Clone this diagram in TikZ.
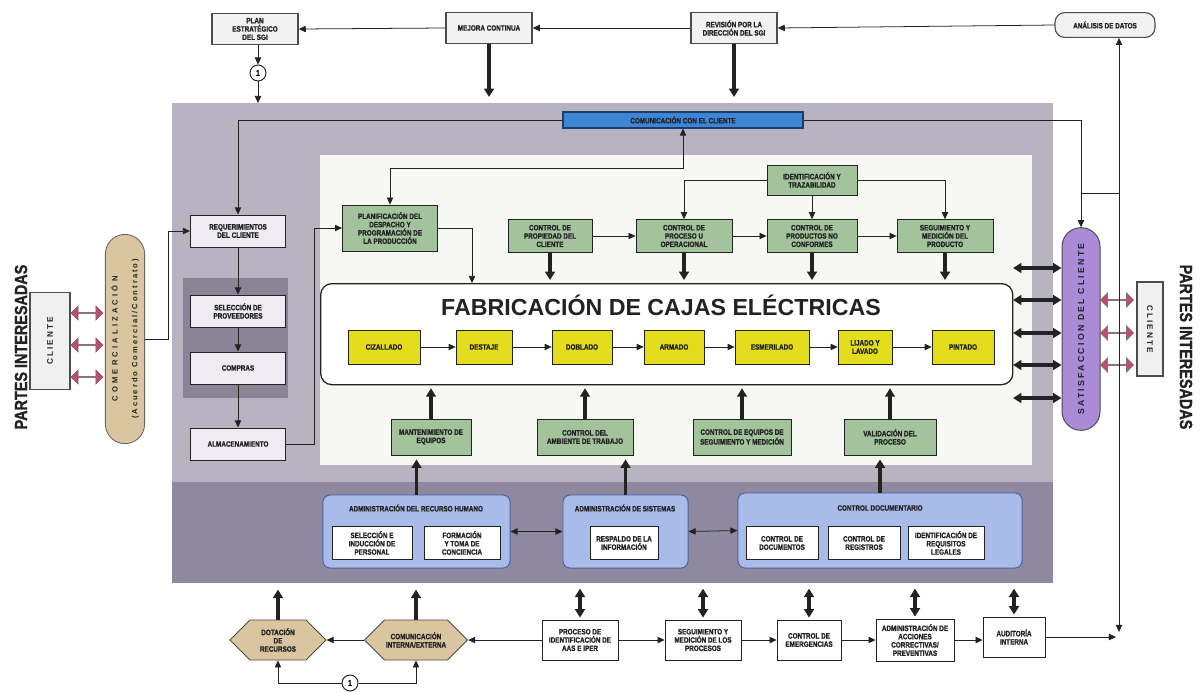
\documentclass[tikz,border=0pt]{standalone}
\usepackage{fontspec}
\setmainfont{Liberation Sans}
\newfontfamily\nf[FakeStretch=0.82, BoldFeatures={FakeBold=1.2}]{Liberation Sans}
\newfontfamily\spf[LetterSpace=26]{Liberation Sans}
\newfontfamily\spg[LetterSpace=42]{Liberation Sans}
\usetikzlibrary{arrows.meta,shapes.misc,shapes.symbols,shapes.arrows,calc}

\definecolor{panelc}{HTML}{B7B3C0}
\definecolor{bandc}{HTML}{8E899E}
\definecolor{provc}{HTML}{8A8497}
\definecolor{innerc}{HTML}{F7F7F4}
\definecolor{grnc}{HTML}{A2C39C}
\definecolor{yelc}{HTML}{E3DD1B}
\definecolor{admc}{HTML}{A8BBE9}
\definecolor{admd}{HTML}{4F5F9A}
\definecolor{commc}{HTML}{3D86D6}
\definecolor{commd}{HTML}{1D3B6B}
\definecolor{tanc}{HTML}{D9C5A0}
\definecolor{purc}{HTML}{A98BD8}
\definecolor{lavc}{HTML}{EEEBF2}
\definecolor{redc}{HTML}{C44B66}
\definecolor{inkc}{HTML}{222222}

\begin{document}
\begin{tikzpicture}[x=0.025cm,y=-0.025cm,
  txt/.style={font=\nf\bfseries\fontsize{5.5}{5.9}\selectfont, align=center, inner sep=1pt, text=inkc},
  topbox/.style={txt, draw=black!70, fill=black!5, line width=1pt, minimum width=2.15cm, minimum height=0.78cm},
  grbox/.style={txt, draw=inkc, fill=grnc, line width=0.6pt, minimum height=0.82cm},
  ybox/.style={txt, draw=inkc, fill=yelc, line width=0.5pt, minimum height=0.85cm},
  lbox/.style={txt, draw=inkc, fill=lavc, line width=0.7pt, minimum width=2.375cm, minimum height=0.8cm},
  wbox/.style={txt, draw=inkc, fill=white, line width=0.6pt, minimum height=0.82cm},
  abox/.style={draw=admd, fill=admc, line width=0.7pt, rounded corners=5pt},
  hexa/.style={txt, signal, signal to=west and east, draw=black!70, fill=tanc, line width=0.6pt, minimum height=1cm},
  ar/.style={-{Triangle[length=5pt,width=4.5pt]}, line width=0.55pt, draw=inkc},
  arr/.style={{Triangle[length=5pt,width=4.5pt]}-{Triangle[length=5pt,width=4.5pt]}, line width=0.55pt, draw=inkc},
  fat/.style={-{Triangle[length=6pt,width=7pt]}, line width=2.6pt, draw=inkc},
  fatd/.style={{Triangle[length=6pt,width=7pt]}-{Triangle[length=6pt,width=7pt]}, line width=2.6pt, draw=inkc},
  reddbl/.style={double arrow, draw=black!60, fill=redc, minimum height=0.8cm, minimum width=0.36cm, double arrow head extend=0.07cm, inner sep=0pt, line width=0.4pt},
  numc/.style={circle, draw=inkc, fill=white, line width=0.7pt, inner sep=0pt, minimum size=0.4cm, font=\nf\bfseries\fontsize{6}{6}\selectfont},
  bigl/.style={font=\nf\bfseries\fontsize{12.5}{13}\selectfont, text=inkc, inner sep=0pt},
]
\useasboundingbox (0,0) rectangle (1200,691);

% ---------- background panels ----------
\node[fill=panelc, inner sep=0, minimum width=22cm, minimum height=12cm, anchor=north west] (panel) at (172,103) {};
\node[fill=bandc, inner sep=0, minimum width=22cm, minimum height=2.525cm, anchor=north west] (band) at (172,482) {};
\node[fill=innerc, inner sep=0, minimum width=17.8cm, minimum height=7.75cm, anchor=north west] (inner) at (320,155) {};
\node[fill=provc, inner sep=0, minimum width=2.625cm, minimum height=3cm, anchor=north west] (provblock) at (183,278) {};

% ---------- top row ----------
\node[topbox] (plan) at (255,29) {PLAN\\ESTRATÉGICO\\DEL SGI};
\node[topbox] (mejora) at (489,28) {MEJORA CONTINUA};
\node[topbox] (revision) at (734,28) {REVISIÓN POR LA\\DIRECCIÓN DEL SGI};
\node[txt, draw=black!70, fill=black!5, line width=0.8pt, rounded corners=7pt, minimum width=2.5cm, minimum height=0.62cm] (analisis) at (1105,25) {ANÁLISIS DE DATOS};
\node[numc] (n1) at (258,73) {1};

\draw[ar] (mejora.west) -- (plan.east);
\draw[ar] (revision.west) -- (mejora.east);
\draw[ar] (analisis.west) -- (revision.east);
\draw[ar] (plan.south -| n1) -- (n1.north);
\draw[ar] (n1.south) -- (n1.south |- panel.north);
\draw[fat] (mejora.south) -- ($(mejora.south |- panel.north)+(0,-6)$);
\draw[fat] (revision.south) -- ($(revision.south |- panel.north)+(0,-6)$);

% ---------- customer communication ----------
\node[txt, draw=commd, fill=commc, line width=0.8pt, minimum width=6cm, minimum height=0.4cm] (comm) at (683,120) {COMUNICACIÓN CON EL CLIENTE};

% ---------- left column ----------
\node[lbox] (req) at (238,231) {REQUERIMIENTOS\\DEL CLIENTE};
\node[lbox] (sel) at (238,311) {SELECCIÓN DE\\PROVEEDORES};
\node[lbox] (comp) at (238,368) {COMPRAS};
\node[lbox] (alm) at (238,444) {ALMACENAMIENTO};
\draw[ar] (req.south) -- (sel.north);
\draw[ar] (sel.south) -- (comp.north);
\draw[ar] (comp.south) -- (alm.north);
\draw[ar] (comm.west) -| (req.north);

% ---------- left interested parties ----------
\node[bigl, rotate=90] (piL) at (21,347) {PARTES INTERESADAS};
\node[draw=black!70, fill=black!6, line width=0.8pt, rotate=90, minimum width=2.425cm, minimum height=1cm,
      font=\spf\bfseries\fontsize{5.8}{6}\selectfont, text=inkc] (clL) at (50,341) {CLIENTE};
\node[reddbl] (rl1) at (87,313) {};
\node[reddbl] (rl2) at (87,345) {};
\node[reddbl] (rl3) at (87,377) {};
\node[rounded rectangle, draw=black!60, fill=tanc, line width=0.6pt, rotate=90, minimum width=5.3cm, minimum height=0.98cm,
      align=center, text=inkc, inner sep=1pt] (comer) at (125,339)
      {{\spg\bfseries\fontsize{5.4}{8}\selectfont COMERCIALIZACIÓN}\\[2pt]{\spf\bfseries\fontsize{5.4}{8}\selectfont (Acuerdo Comercial/Contrato)}};
\draw[ar] (comer.south) -- ++(23,0) |- (req.west);

% ---------- planning ----------
\node[grbox, minimum width=2.375cm, minimum height=1.15cm] (plan2) at (390,228) {PLANIFICACIÓN DEL\\DESPACHO Y\\PROGRAMACIÓN DE\\LA PRODUCCIÓN};
\coordinate (cy) at (0,168);
\draw[arr] (plan2.north) |- (comm.south |- cy) -- (comm.south);
\draw[ar] (alm.east) -- ++(28,0) |- (plan2.west);

% ---------- manufacturing ----------
\node[draw=inkc, line width=0.9pt, rounded corners=8pt, fill=white, minimum width=17.3cm, minimum height=2.525cm, anchor=north west, inner sep=0] (fab) at (320,283) {};
\node[font=\bfseries\fontsize{16.5}{16.5}\selectfont, text=inkc] (fabt) at (661,305) {FABRICACIÓN DE CAJAS ELÉCTRICAS};
\node[ybox, minimum width=1.8cm] (ciz) at (384,347) {CIZALLADO};
\node[ybox, minimum width=1.4cm] (des) at (484,347) {DESTAJE};
\node[ybox, minimum width=1.5cm] (dob) at (582,347) {DOBLADO};
\node[ybox, minimum width=1.5cm] (arm) at (674,347) {ARMADO};
\node[ybox, minimum width=1.85cm] (esm) at (772,347) {ESMERILADO};
\node[ybox, minimum width=1.35cm] (lij) at (865,347) {LIJADO Y\\LAVADO};
\node[ybox, minimum width=1.55cm] (pin) at (963,347) {PINTADO};
\draw[ar] (ciz.east) -- (des.west);
\draw[ar] (des.east) -- (dob.west);
\draw[ar] (dob.east) -- (arm.west);
\draw[ar] (arm.east) -- (esm.west);
\draw[ar] (esm.east) -- (lij.west);
\draw[ar] (lij.east) -- (pin.west);
\coordinate (fx) at (472,0);
\draw[ar] (plan2.east) -| (fab.north -| fx);

% ---------- operational controls ----------
\node[grbox, minimum width=2.1cm] (prop) at (550,236) {CONTROL DE\\PROPIEDAD DEL\\CLIENTE};
\node[grbox, minimum width=2.4cm] (proc) at (684,236) {CONTROL DE\\PROCESO U\\OPERACIONAL};
\node[grbox, minimum width=2.25cm] (prod) at (812,236) {CONTROL DE\\PRODUCTOS NO\\CONFORMES};
\node[grbox, minimum width=2.4cm] (seg) at (945,236) {SEGUIMIENTO Y\\MEDICIÓN DEL\\PRODUCTO};
\node[grbox, minimum width=2.25cm, minimum height=0.75cm] (ident) at (812,180) {IDENTIFICACIÓN Y\\TRAZABILIDAD};
\draw[ar] (prop.east) -- (proc.west);
\draw[ar] (proc.east) -- (prod.west);
\draw[ar] (prod.east) -- (seg.west);
\draw[ar] (ident.south) -- (prod.north);
\draw[ar] (ident.west) -| (proc.north);
\draw[ar] (ident.east) -| (seg.north);
\foreach \b in {prop,proc,prod,seg}
  \draw[fat] (\b.south) -- ($(\b.south |- fab.north)+(0,-3)$);

% ---------- support processes ----------
\node[grbox, minimum width=2cm, minimum height=0.9cm] (mant) at (431,437) {MANTENIMIENTO DE\\EQUIPOS};
\node[grbox, minimum width=2.4cm, minimum height=0.9cm] (amb) at (585,437) {CONTROL DEL\\AMBIENTE DE TRABAJO};
\node[grbox, minimum width=2.45cm, minimum height=0.9cm] (equ) at (742,437) {CONTROL DE EQUIPOS DE\\SEGUIMIENTO Y MEDICIÓN};
\node[grbox, minimum width=2.3cm, minimum height=0.9cm] (val) at (890,437) {VALIDACIÓN DEL\\PROCESO};
\foreach \b in {mant,amb,equ,val}
  \draw[fat] (\b.north) -- ($(\b.north |- fab.south)+(0,3)$);

% ---------- management blocks ----------
\node[abox, minimum width=4.675cm, minimum height=1.825cm] (rh) at (416.5,531.5) {};
\node[txt] (rht) at (416,508) {ADMINISTRACIÓN DEL RECURSO HUMANO};
\node[wbox, minimum width=2cm] (rh1) at (372,543) {SELECCIÓN E\\INDUCCIÓN DE\\PERSONAL};
\node[wbox, minimum width=1.9cm] (rh2) at (462,543) {FORMACIÓN\\Y TOMA DE\\CONCIENCIA};

\node[abox, minimum width=3.125cm, minimum height=1.825cm] (sys) at (625.5,531.5) {};
\node[txt] (syst) at (625,508) {ADMINISTRACIÓN DE SISTEMAS};
\node[wbox, minimum width=1.7cm] (sys1) at (624,543) {RESPALDO DE LA\\INFORMACIÓN};

\node[abox, minimum width=7.1cm, minimum height=1.875cm] (doc) at (880,530.5) {};
\node[txt] (doct) at (880,508) {CONTROL DOCUMENTARIO};
\node[wbox, minimum width=1.8cm] (doc1) at (782,543) {CONTROL DE\\DOCUMENTOS};
\node[wbox, minimum width=1.8cm] (doc2) at (864,543) {CONTROL DE\\REGISTROS};
\node[wbox, minimum width=1.9cm] (doc3) at (946,543) {IDENTIFICACIÓN DE\\REQUISITOS\\LEGALES};

\draw[arr] (rh.east) -- (sys.west);
\draw[arr] (sys.east) -- (doc.west);
\draw[fat] (rh.north) -- ($(rh.north |- mant.south)+(0,4)$);
\draw[fat] (sys.north) -- ($(sys.north |- amb.south)+(0,4)$);
\draw[fat] (doc.north) -- ($(doc.north |- val.south)+(0,4)$);

% ---------- customer satisfaction (right) ----------
\node[rounded rectangle, draw=black!70, fill=purc, line width=0.7pt, rotate=90, minimum width=5.3cm, minimum height=0.95cm,
      font=\spf\bfseries\fontsize{6.2}{6.5}\selectfont, text=inkc] (satis) at (1081,329) {SATISFACCION DEL CLIENTE};
\draw[ar] (comm.east) -| (satis.east);
\foreach \yy [count=\i] in {268,300,333,365,398} {
  \coordinate (bk\i) at (1013,\yy);
  \draw[fatd] (bk\i) -- (bk\i -| satis.north);
}
\node[reddbl, minimum height=0.825cm] (rr1) at (1117,300) {};
\node[reddbl, minimum height=0.825cm] (rr2) at (1117,333) {};
\node[reddbl, minimum height=0.825cm] (rr3) at (1117,365) {};
\node[draw=black!70, fill=black!6, line width=0.8pt, rotate=-90, minimum width=2.35cm, minimum height=0.65cm,
      font=\spf\bfseries\fontsize{5.8}{6}\selectfont, text=inkc] (clR) at (1150,329) {CLIENTE};
\node[bigl, rotate=-90] (piR) at (1186,347) {PARTES INTERESADAS};

% ---------- bottom row ----------
\node[hexa, minimum width=2.4cm] (dot) at (278,640) {DOTACIÓN\\DE\\RECURSOS};
\node[hexa, minimum width=2.5cm] (comi) at (416,640) {COMUNICACIÓN\\INTERNA/EXTERNA};
\node[numc] (n2) at (350,683) {1};
\node[wbox, minimum width=1.9cm, minimum height=1cm] (proc2) at (580,640) {PROCESO DE\\IDENTIFICACIÓN DE\\AAS E IPER};
\node[wbox, minimum width=1.9cm, minimum height=1cm] (segp) at (703,640) {SEGUIMIENTO Y\\MEDICIÓN DE LOS\\PROCESOS};
\node[wbox, minimum width=1.6cm, minimum height=1cm] (emer) at (809,640) {CONTROL DE\\EMERGENCIAS};
\node[wbox, minimum width=1.95cm, minimum height=1.05cm] (acc) at (915,640) {ADMINISTRACIÓN DE\\ACCIONES\\CORRECTIVAS/\\PREVENTIVAS};
\node[wbox, minimum width=1.55cm, minimum height=1cm] (aud) at (1014,637) {AUDITORÍA\\INTERNA};

\draw[ar] (proc2.west) -- (comi.east);
\draw[ar] (comi.west) -- (dot.east);
\draw[ar] (n2.west) -| (dot.south);
\draw[ar] (n2.east) -| (comi.south);
\draw[ar] (proc2.east) -- (segp.west);
\draw[ar] (segp.east) -- (emer.west);
\draw[ar] (emer.east) -- (acc.west);
\draw[ar] (acc.east) -- (acc.east -| aud.west);
\draw[fat] (dot.north) -- ($(dot.north |- band.south)+(0,6)$);
\draw[fat] (comi.north) -- ($(comi.north |- band.south)+(0,6)$);
\foreach \b in {proc2,segp,emer,acc,aud}
  \draw[fatd] ($(\b.north)+(0,-2)$) -- ($(\b.north |- band.south)+(0,5)$);

% ---------- data analysis feedback line ----------
\coordinate (vbot) at (1119,632);
\coordinate (jy) at (0,193);
\draw[arr] (vbot |- analisis.south) -- (vbot);
\draw[ar] (aud.east) -- ($(aud.east -| vbot)+(-3,0)$);
\draw[line width=0.55pt, draw=inkc] (satis.east |- jy) -- (vbot |- jy);
\end{tikzpicture}
\end{document}
